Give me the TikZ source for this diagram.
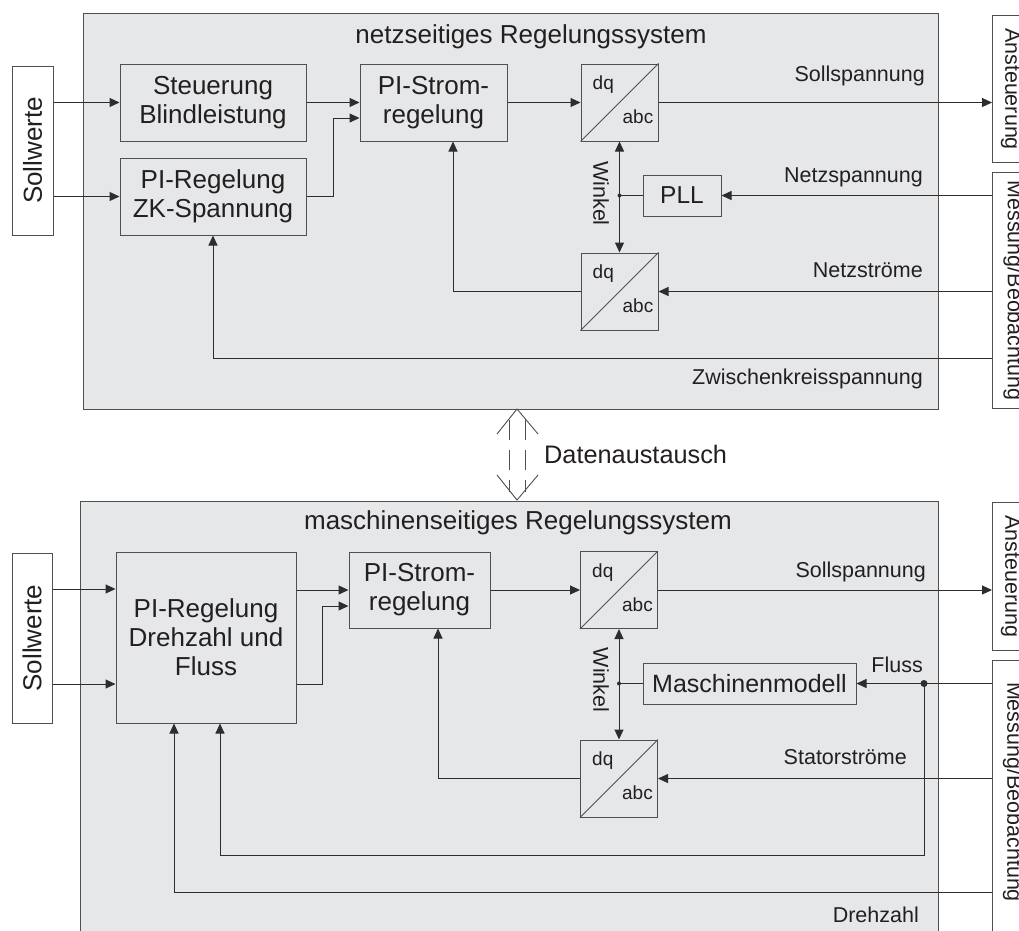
\documentclass[tikz,border=0pt]{standalone}
\usepackage{fontspec}
\setmainfont{Liberation Sans}
\usetikzlibrary{arrows.meta,calc}
\definecolor{panelgray}{RGB}{230,231,233}
\definecolor{bord}{RGB}{80,80,80}
\definecolor{linec}{RGB}{45,45,45}
\definecolor{txt}{RGB}{35,31,32}
\tikzset{
 panel/.style={draw=bord, fill=panelgray, line width=1pt, inner sep=0pt},
 blk/.style={draw=bord, line width=1pt, inner sep=0pt, align=center, text=txt, font=\fontsize{26}{29}\selectfont},
 side/.style={draw=bord, fill=white, line width=1pt, inner sep=0pt},
 lbl/.style={text=txt, inner sep=0pt, font=\fontsize{21.5}{24}\selectfont},
 ttl/.style={text=txt, inner sep=0pt, font=\fontsize{26}{29}\selectfont},
 small/.style={text=txt, inner sep=0pt, font=\fontsize{19}{21}\selectfont},
 conn/.style={draw=linec, line width=1pt},
 arr/.style={conn, -{Triangle[length=10pt,width=9pt]}},
 darr/.style={conn, {Triangle[length=10pt,width=9pt]}-{Triangle[length=10pt,width=9pt]}},
 xchg/.style={draw=bord, line width=0.9pt},
}
\newcommand\dqblock[3]{%
 \node[blk, minimum width=77pt, minimum height=77pt] (#1) at (#2,#3) {};
 \draw[bord, line width=1pt] (#1.south west) -- (#1.north east);
 \node[small, anchor=base west] (#1dq) at ($(#1.north west)+(12,26)$) {dq};
 \node[small, anchor=base east] (#1abc) at ($(#1.south east)+(-5,-18)$) {abc};
}
\begin{document}
\begin{tikzpicture}[x=1pt,y=-1pt]
\useasboundingbox (0,0) rectangle (1019,930);
\clip (0,0) rectangle (1019,930);
\fill[white] (0,0) rectangle (1019,930);

% ---------------- top panel ----------------
\node[panel, minimum width=855pt, minimum height=396pt, anchor=north west] (netz) at (83,13) {};
\node[ttl, anchor=base] (tnetz) at (531,43) {netzseitiges Regelungssystem};

\node[side, minimum width=41pt, minimum height=169pt] (sw1) at (32.5,150.5) {};
\node[ttl, rotate=90] (sw1t) at (sw1.center) {Sollwerte};

\node[blk, minimum width=186pt, minimum height=77pt] (steu) at (213,102.5) {Steuerung\\Blindleistung};
\node[blk, minimum width=186pt, minimum height=77pt] (zk) at (213,196.5) {PI-Regelung\\ZK-Spannung};
\node[blk, minimum width=147pt, minimum height=77pt] (pis1) at (433.5,102.5) {PI-Strom-\\regelung};
\dqblock{dq1}{619.5}{102.5}
\dqblock{dq2}{619.5}{291.5}
\node[blk, minimum width=78pt, minimum height=41pt, font=\fontsize{24.5}{27}\selectfont] (pll) at (682,195.5) {PLL};

\node[side, minimum width=36pt, minimum height=147pt, anchor=north west] (an1) at (992,15) {};
\node[lbl, rotate=-90] (an1t) at (an1.center) {Ansteuerung};
\node[side, minimum width=42pt, minimum height=236pt, anchor=north west] (ms1) at (992,172) {};
\node[lbl, rotate=-90] (ms1t) at (ms1.center) {Messung/Beobachtung};

\draw[arr] (sw1.east |- steu.west) -- (steu.west);
\draw[arr] (sw1.east |- zk.west) -- (zk.west);
\draw[arr] (steu.east) -- (pis1.west);
\draw[arr] (zk.east) -- ++(27,0) |- ($(pis1.west)+(0,15.5)$);
\draw[arr] (pis1.east) -- (dq1.west);
\draw[arr] (dq1.east) -- (dq1.east -| an1.west);
\coordinate (j1) at (dq1.south |- pll.west);
\draw[darr] (dq1.south) -- (dq2.north);
\draw[conn] (pll.west) -- (j1);
\fill[linec] (j1) circle (2);
\draw[arr] (ms1.west |- pll.east) -- (pll.east);
\draw[arr] (ms1.west |- dq2.east) -- (dq2.east);
\draw[arr] (dq2.west) -| ($(pis1.south)+(19.5,0)$);
\coordinate (uzk) at (992,358);
\draw[arr] (uzk) -| (zk.south);

\node[lbl, rotate=-90] (w1) at (601,193.5) {Winkel};
\node[lbl, anchor=base east] (l1) at (925,81) {Sollspannung};
\node[lbl, anchor=base east] (l2) at (923,182) {Netzspannung};
\node[lbl, anchor=base east] (l3) at (923,277) {Netzströme};
\node[lbl, anchor=base east] (l4) at (923,384) {Zwischenkreisspannung};

% ---------------- data exchange ----------------
\coordinate (dtop) at (517,409);
\coordinate (dbot) at (517,500);
\draw[xchg] ($(dtop)+(-20,25)$) -- (dtop) -- ($(dtop)+(21,25)$);
\draw[xchg] ($(dbot)+(-20,-25)$) -- (dbot) -- ($(dbot)+(21,-25)$);
\draw[xchg, dash pattern=on 20pt off 10pt] ($(dtop)+(-8,11)$) -- ($(dbot)+(-8,-8)$);
\draw[xchg, dash pattern=on 20pt off 10pt] ($(dtop)+(8,11)$) -- ($(dbot)+(8,-8)$);
\node[ttl, font=\fontsize{25.3}{28}\selectfont, anchor=base west] (dat) at (544,463) {Datenaustausch};

% ---------------- bottom panel ----------------
\node[panel, minimum width=858pt, minimum height=460pt, anchor=north west] (masch) at (80,501) {};
\node[ttl, anchor=base] (tmasch) at (518,529) {maschinenseitiges Regelungssystem};

\node[side, minimum width=40pt, minimum height=170pt] (sw2) at (32,638) {};
\node[ttl, rotate=90] (sw2t) at (sw2.center) {Sollwerte};

\node[blk, minimum width=180pt, minimum height=171pt] (pir) at (206,637.5) {PI-Regelung\\Drehzahl und\\Fluss};
\node[blk, minimum width=141pt, minimum height=76pt] (pis2) at (419.5,590) {PI-Strom-\\regelung};
\dqblock{dq3}{619}{590}
\dqblock{dq4}{619}{778.5}
\node[blk, minimum width=213pt, minimum height=41pt, font=\fontsize{25}{28}\selectfont] (mm) at (749.5,683.5) {Maschinenmodell};

\node[side, minimum width=36pt, minimum height=148pt, anchor=north west] (an2) at (992,502) {};
\node[lbl, rotate=-90] (an2t) at (an2.center) {Ansteuerung};
\node[side, minimum width=42pt, minimum height=290pt, anchor=north west] (ms2) at (992,660) {};
\node[lbl, rotate=-90] (ms2t) at (1013,792) {Messung/Beobachtung};

\draw[arr] ($(sw2.east)+(0,-49)$) coordinate (s2a) -- (s2a -| pir.west);
\draw[arr] ($(sw2.east)+(0,46)$) coordinate (s2b) -- (s2b -| pir.west);
\draw[arr] (pis2.west -| pir.east) -- (pis2.west);
\draw[arr] ($(pir.east)+(0,46.5)$) -- ++(26,0) |- ($(pis2.west)+(0,16)$);
\draw[arr] (pis2.east) -- (dq3.west);
\draw[arr] (dq3.east) -- (dq3.east -| an2.west);
\coordinate (j2) at (dq3.south |- mm.west);
\draw[darr] (dq3.south) -- (dq4.north);
\draw[conn] (mm.west) -- (j2);
\fill[linec] (j2) circle (2);
\coordinate (fdot) at (924,683.5);
\draw[arr] (ms2.west |- mm.east) -- (mm.east);
\draw[arr] (fdot) -- ++(0,171.5) -| ($(pir.south)+(14,0)$);
\fill[linec] (fdot) circle (3.5);
\draw[arr] (ms2.west |- dq4.east) -- (dq4.east);
\draw[arr] (dq4.west) -| ($(pis2.south)+(18.5,0)$);
\coordinate (dz) at (992,892);
\draw[arr] (dz) -| ($(pir.south)+(-32,0)$);

\node[lbl, rotate=-90] (w2) at (601,680) {Winkel};
\node[lbl, anchor=base east] (l5) at (926,577) {Sollspannung};
\node[lbl, anchor=base east] (l6) at (923,672) {Fluss};
\node[lbl, anchor=base east] (l7) at (907,764) {Statorströme};
\node[lbl, anchor=base east] (l8) at (919,922) {Drehzahl};
\end{tikzpicture}
\end{document}
